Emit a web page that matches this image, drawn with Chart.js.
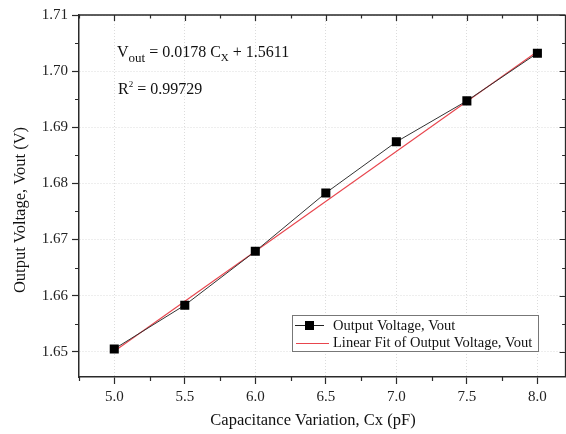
<!DOCTYPE html>
<html><head><meta charset="utf-8">
<script src="https://cdn.jsdelivr.net/npm/chart.js@4.4.0/dist/chart.umd.min.js"></script>
<style>html,body{margin:0;padding:0;background:#fff;overflow:hidden;width:566px;height:434px}#wrap{width:572px;height:434px;position:relative}</style>
</head><body><div id="wrap"><canvas id="c"></canvas></div>
<script>
const capacitance = [5.0, 5.5, 6.0, 6.5, 7.0, 7.5, 8.0];
const outputVoltage = [1.6505, 1.6583, 1.6679, 1.6783, 1.6874, 1.6947, 1.7032];
const fitX = [5.0, 8.0];
const fitY = [1.6501, 1.7035];
const xTicks = [5.0, 5.5, 6.0, 6.5, 7.0, 7.5, 8.0];
const yTicks = [1.65, 1.66, 1.67, 1.68, 1.69, 1.70, 1.71];
const xMinorStep = 0.25;
const yMinorStep = 0.005;
const xTitle = 'Capacitance Variation, Cx (pF)';
const yTitle = 'Output Voltage, Vout (V)';
const seriesName = 'Output Voltage, Vout';
const fitName = 'Linear Fit of Output Voltage, Vout';

const SERIF = '"Liberation Serif", "Times New Roman", serif';
const AXIS = '#2a2a2a';
const FITCOL = '#e8454d';

const dataPts = capacitance.map((x, i) => ({x, y: outputVoltage[i]}));
const fitPts = fitX.map((x, i) => ({x, y: fitY[i]}));

function drawTextRuns(ctx, x, y, runs) {
  let cx = x;
  for (const [t, size, dy] of runs) {
    ctx.font = size + 'px ' + SERIF;
    ctx.fillText(t, cx, y + dy);
    cx += ctx.measureText(t).width;
  }
}

const decor = {
  id: 'decor',
  afterDatasetsDraw(chart) {
    const ctx = chart.ctx;
    const xs = chart.scales.x, ys = chart.scales.y;
    const a = chart.chartArea;
    ctx.save();
    ctx.strokeStyle = AXIS;
    ctx.lineWidth = 1.5;
    ctx.beginPath();
    ctx.moveTo(a.left, a.top); ctx.lineTo(a.right, a.top);
    ctx.moveTo(a.right, a.top); ctx.lineTo(a.right, a.bottom);
    ctx.stroke();
    ctx.lineWidth = 1.2;
    ctx.beginPath();
    for (let v = Math.ceil(xs.min / xMinorStep) * xMinorStep; v <= xs.max + 1e-9; v += xMinorStep) {
      const px = Math.round(xs.getPixelForValue(v)) + 0.5;
      const major = xTicks.some(t => Math.abs(t - v) < 1e-9);
      if (!major) { ctx.moveTo(px, a.bottom); ctx.lineTo(px, a.bottom + 4); }
      ctx.moveTo(px, a.top); ctx.lineTo(px, a.top + (major ? 6 : 3.5));
    }
    for (let v = Math.ceil(ys.min / yMinorStep) * yMinorStep; v <= ys.max + 1e-9; v += yMinorStep) {
      const py = Math.round(ys.getPixelForValue(v)) + 0.5;
      const major = yTicks.some(t => Math.abs(t - v) < 1e-9);
      if (!major) { ctx.moveTo(a.left, py); ctx.lineTo(a.left - 4, py); }
      ctx.moveTo(a.right, py); ctx.lineTo(a.right - (major ? 6 : 3.5), py);
    }
    ctx.stroke();

    ctx.fillStyle = '#111';
    ctx.textBaseline = 'alphabetic';
    ctx.textAlign = 'left';
    drawTextRuns(ctx, 117, 57, [['V', 16, 0], ['out', 13, 5], [' = 0.0178 C', 16, 0], ['X', 11, 4], [' + 1.5611', 16, 0]]);
    drawTextRuns(ctx, 118, 94, [['R', 16, 0], ['2', 9, -7], [' = 0.99729', 16, 0]]);

    const L = {x: 292, y: 315, w: 246, h: 36};
    ctx.fillStyle = '#fff';
    ctx.fillRect(L.x, L.y, L.w, L.h);
    ctx.strokeStyle = '#777';
    ctx.lineWidth = 1;
    ctx.strokeRect(L.x + 0.5, L.y + 0.5, L.w, L.h);
    ctx.strokeStyle = '#222';
    ctx.beginPath(); ctx.moveTo(295, 325.5); ctx.lineTo(324, 325.5); ctx.stroke();
    ctx.fillStyle = '#000';
    ctx.fillRect(305, 321, 9, 9);
    ctx.strokeStyle = FITCOL;
    ctx.lineWidth = 1.2;
    ctx.beginPath(); ctx.moveTo(296, 343.5); ctx.lineTo(329, 343.5); ctx.stroke();
    ctx.fillStyle = '#111';
    ctx.font = '14.5px ' + SERIF;
    ctx.textBaseline = 'middle';
    ctx.fillText(seriesName, 333, 326);
    ctx.fillText(fitName, 333, 343);

    ctx.font = '16.5px ' + SERIF;
    ctx.textAlign = 'center';
    ctx.textBaseline = 'middle';
    ctx.fillText(xTitle, 313, 421);
    ctx.save();
    ctx.translate(21, 210);
    ctx.rotate(-Math.PI / 2);
    ctx.fillText(yTitle, 0, 0);
    ctx.restore();
    ctx.restore();
  }
};

new Chart(document.getElementById('c'), {
  type: 'scatter',
  data: {
    datasets: [
      {
        label: seriesName,
        data: dataPts,
        showLine: true,
        borderColor: '#333',
        borderWidth: 1,
        pointStyle: 'rect',
        pointRadius: 6.4,
        pointBackgroundColor: '#000',
        pointBorderColor: '#000',
        pointBorderWidth: 0,
        order: 1
      },
      {
        label: fitName,
        data: fitPts,
        showLine: true,
        borderColor: FITCOL,
        borderWidth: 1.1,
        pointRadius: 0,
        order: 2
      }
    ]
  },
  options: {
    responsive: true,
    maintainAspectRatio: false,
    animation: false,
    layout: {padding: {top: 15, right: 0, left: 0, bottom: 0}},
    plugins: {legend: {display: false}, tooltip: {enabled: false}},
    scales: {
      x: {
        type: 'linear',
        min: 4.75,
        max: 8.2,
        afterBuildTicks: s => { s.ticks = xTicks.map(v => ({value: v})); },
        afterFit: s => { s.height = 57; },
        ticks: {
          font: {family: SERIF, size: 15},
          color: '#222',
          padding: 4,
          maxRotation: 0,
          autoSkip: false,
          callback: v => Number(v).toFixed(1)
        },
        grid: {color: '#dcdcdc', lineWidth: 1, tickColor: AXIS, tickLength: 7, tickWidth: 1.2, tickBorderDash: []},
        border: {display: true, color: AXIS, width: 1.5, dash: [1, 2]}
      },
      y: {
        type: 'linear',
        min: 1.6455,
        max: 1.71,
        afterBuildTicks: s => { s.ticks = yTicks.map(v => ({value: v})); },
        afterFit: s => { s.width = 79; },
        ticks: {
          font: {family: SERIF, size: 15},
          color: '#222',
          padding: 4,
          autoSkip: false,
          callback: v => Number(v).toFixed(2)
        },
        grid: {color: '#dcdcdc', lineWidth: 1, tickColor: AXIS, tickLength: 7, tickWidth: 1.2, tickBorderDash: []},
        border: {display: true, color: AXIS, width: 1.5, dash: [1, 2]}
      }
    }
  },
  plugins: [decor]
});
</script>
</body></html>
